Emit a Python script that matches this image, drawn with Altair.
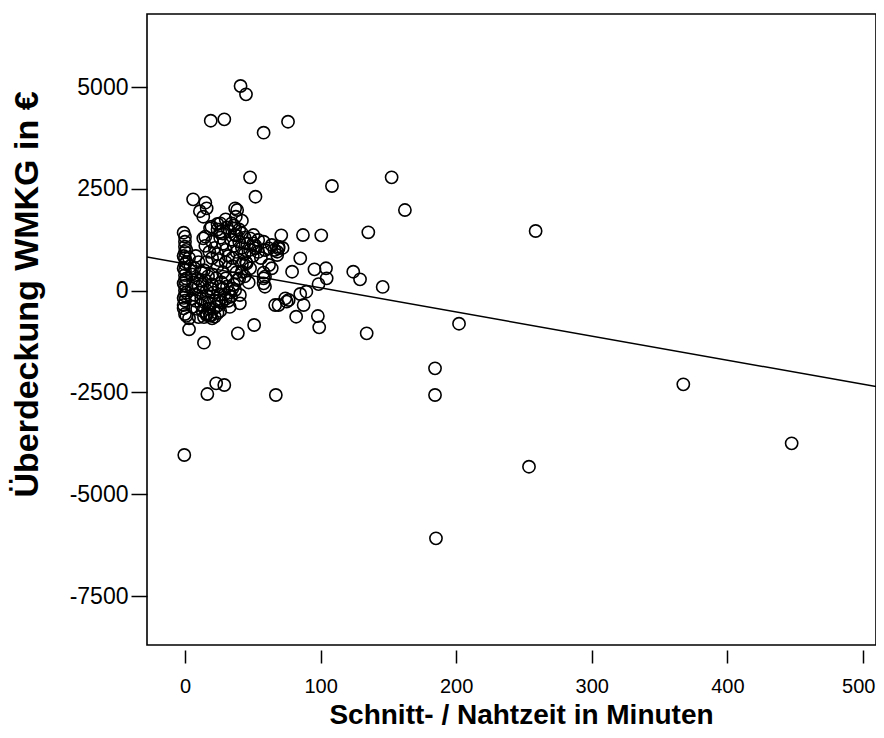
import altair as alt
import pandas as pd

# Scatter points: Schnitt-/Nahtzeit (min) vs. Überdeckung WMKG (€)
scatter_x = [
    41, 45, 19, 29, 58, 76, 48, 52, 108.4, 152.4, 162.2, 6, 15, 16, 11, 13.5, 38.5, 37.5, 42, 30,
    24, 18.5, -1, 71, 87, 100.5, 135.2, 85, 258.6, 202.1, 184.4, 184.4, 253.7, 367.5, 447.4, 185.1,
    145.8, 16.5, 23, 29, 67, -0.5, 79, 95.5, 104, 104.5, 98.5, 124.1, 129.1, 85, 89.5, 76.5, 66.5,
    87.5, 82, 98, 99, 134, 51, 39, 14, 3, 0, 3, -1, 40.5, 59, 58, 58, 64, 68, 50.5, 50.5, 58, 59,
    26, 15, 19.5, 38.5, 37, 18.5, 22, 16, -1, 1, 75, 59, 58, 40.5, 74, 69, 45.5, 48, 42, 62,
    52, 62, 69, 0, 0, 0, 13.5, 34.5, 26, 37, 37, 37, 42, 48, 54, 64, 69, 66, 72, 68,
    0, 0, 0, 0, 0, 0, 0, 0, 0, 0, 1, 1, 1, 1, -1, -1, -1, -1,
    3, 4, 5, 6, 5, 7, 8, 6, 9, 10, 11, 12, 12, 13, 14, 15, 16, 17, 18, 18, 19, 20, 21, 22, 23,
    24, 25, 26, 27, 28, 30, 32, 34, 10, 8, 12, 14, 16, 20, 7, 9, 11, 13, 15, 17, 19, 21, 23, 25,
    27, 29, 31, 33, 20, 24, 16, 28, 30, 35, 26, 10, 5,
    15, 18, 20, 22, 24, 26, 28, 30, 32, 34, 36, 38, 40, 42, 44, 46, 48, 50, 52, 54, 56, 25, 30,
    35, 40, 20, 45, 28, 33, 38, 24, 31, 40, 44, 36,
    35, 38, 40, 36, 33, 44, 47, 42,
]
scatter_y = [
    5025, 4820, 4172, 4207, 3878, 4148, 2782, 2306, 2569, 2782, 1979, 2242, 2159, 2021, 1950, 1815, 1979, 1815, 1717, 1751,
    1636, 1530, 1422, 1358, 1365, 1358, 1432, 793, 1464, -813, -1908, -2564, -4325, -2301, -3750, -6083,
    90, -2540, -2277, -2318, -2564, -4037, 464, 523, 548, 302, 160, 464, 277, -83, -27, -231, -354,
    -354, -641, -624, -901, -1049, -845, -1049, -1279, -950, -575, -680, -435, -312, 96, 302, 440, 548, 955, 1365, 1161, 1201, 997,
    1653, 1324, 1569, 260, 15, -599, -641, -557, -354, -620, -272, 342, 179, -108, -189, -354, 670, 548, 464, 629,
    1039, 1039, 1039, 1324, 1201, 1078, 1284, 1653, 1446, 2021, 1530, 1365, 1407, 1284, 1243, 1120, 1078, 997, 1047, 875,
    950, 800, 650, 500, 380, 250, 120, 0, -120, -250, 1000, 700, 300, -50, 850, 550, 180, -180,
    800, 600, 400, 200, 50, -100, -250, -400, 300, 100, -50, -200, -350, -500, 500, 250, 0, -150, -300, -450, -620, 150, -50, -250, -400,
    -550, 100, -100, -300, 50, -200, -250, -150, 700, 850, 450, -650, -600, -680, 550, -450, 250, 150, -300, 350, 50, -450, 300, -250,
    200, -100, 100, -400, 400, 600, 700, 450, 300, 50, -500, -650, -200,
    1100, 950, 1200, 1050, 900, 1300, 1150, 1000, 850, 1250, 1100, 950, 1200, 1050, 900, 1150, 1000, 850, 1100, 950, 800, 750, 700,
    800, 750, 800, 700, 1400, 1450, 1350, 1500, 1550, 1500, 1300, 1600,
    600, 450, 300, 150, -50, 350, 200, 650,
]

# Linear fit line
fit_intercept = 659
fit_slope = -5.92
x_domain = [-28, 509.6]
y_domain = [-8703, 6793]
y_ticks = [-7500, -5000, -2500, 0, 2500, 5000]
x_ticks = [0, 100, 200, 300, 400, 500]

n = min(len(scatter_x), len(scatter_y))
points = pd.DataFrame({"x": scatter_x[:n], "y": scatter_y[:n]})
fit = pd.DataFrame({"x": x_domain})
fit["y"] = fit_intercept + fit_slope * fit["x"]

FONT = "Liberation Sans"

xscale = alt.Scale(domain=x_domain, nice=False, zero=False)
yscale = alt.Scale(domain=y_domain, nice=False, zero=False)

xaxis = alt.Axis(
    values=x_ticks, domain=False, grid=False, offset=5, tickSize=13, tickWidth=1.5,
    tickColor="black", labelFont=FONT, labelFontSize=20, labelColor="black", labelPadding=13,
    labelAlign=alt.ExprRef("datum.value == 500 ? 'right' : 'center'"),
    labelOffset=alt.ExprRef("datum.value == 500 ? 12 : 0"),
    title="Schnitt- / Nahtzeit in Minuten", titleFont=FONT, titleFontSize=28,
    titleFontWeight="bold", titleColor="black", titleX=374, titleY=65,
    titleAlign="center", titleBaseline="middle", labelFlush=False,
)
yaxis = alt.Axis(
    values=y_ticks, domain=False, grid=False, tickSize=16, tickWidth=1.5,
    labelExpr="datum.value < 0 ? '-' + format(-datum.value, 'd') : format(datum.value, 'd')",
    tickColor="black", labelFont=FONT, labelFontSize=23, labelColor="black", labelPadding=3,
    title="Überdeckung WMKG in €", titleFont=FONT, titleFontSize=34,
    titleFontWeight="bold", titleColor="black", titleAngle=270, titleX=-120, titleY=280,
    titleAlign="center", titleBaseline="middle", labelFlush=False,
)

pts = alt.Chart(points).mark_point(
    shape="circle", filled=False, color="black", size=150, strokeWidth=1.6, opacity=1, clip=True
).encode(
    x=alt.X("x:Q", scale=xscale, axis=xaxis),
    y=alt.Y("y:Q", scale=yscale, axis=yaxis),
)

line = alt.Chart(fit).mark_line(color="black", strokeWidth=1.5, clip=True).encode(
    x=alt.X("x:Q", scale=xscale),
    y=alt.Y("y:Q", scale=yscale),
)

chart = (
    alt.layer(pts, line)
    .properties(
        width=729, height=631,
        padding={"left": 139, "top": 6, "right": 0, "bottom": 85},
        autosize=alt.AutoSizeParams(type="none"),
        background="white",
    )
    .configure_view(stroke="black", strokeWidth=1.6)
)

chart.save("out.html", embed_options={"renderer": "svg", "actions": False})
